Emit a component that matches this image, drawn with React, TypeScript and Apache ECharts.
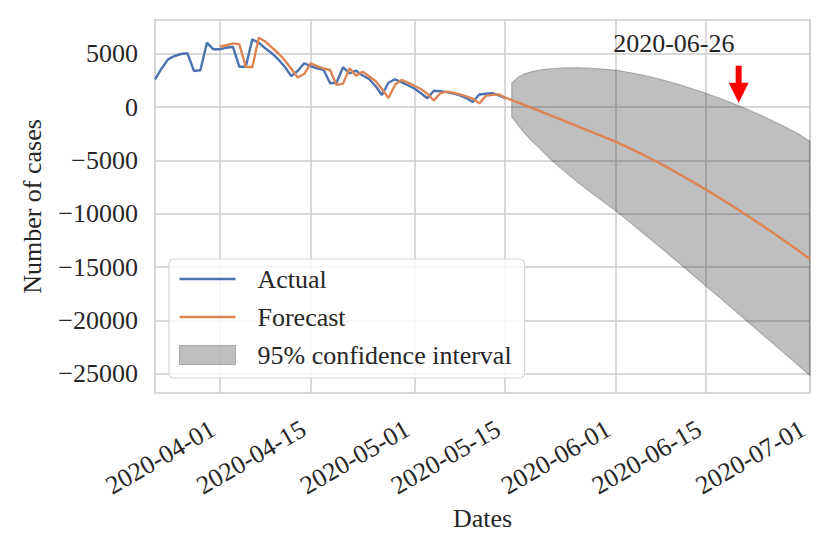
import React, { useEffect, useRef } from 'react';
import * as echarts from 'echarts';

const FONT = "'Liberation Serif', 'Times New Roman', serif";
const TEXT = '#262626';
const FS = 26;

const actualStart = '2020-03-22';
const actualValues = [
  2600, 3600, 4480, 4790, 4980, 5050, 3390, 3450, 6040, 5420,
  5420, 5570, 5660, 3790, 3790, 6350, 6040, 5510, 5050, 4480,
  3790, 2920, 3390, 4110, 3850, 3640, 3500, 2240, 2300, 3740,
  3170, 3420, 2970, 2640, 1980, 1140, 2290, 2610, 2350, 2050,
  1750, 1300, 830, 1530, 1500, 1400, 1280, 1100, 850, 480,
  1180, 1250, 1300, 1100, 850,
];

const fittedStart = '2020-04-01';
const fittedValues = [
  5660, 5800, 5980, 5890, 3790, 3740, 6500, 6150, 5600, 5050,
  4400, 3600, 2780, 3100, 4100, 3850, 3620, 3480, 2080, 2200,
  3640, 2950, 3320, 2900, 2450, 1700, 850, 2080, 2550, 2300,
  2000, 1700, 1250, 620, 1300, 1450, 1350, 1200, 1000, 800,
  350, 1050, 1150, 1200, 900,
];

const futureDates = [
  '2020-05-16', '2020-05-17', '2020-05-18', '2020-05-19', '2020-05-20',
  '2020-05-22', '2020-05-24', '2020-05-26', '2020-05-28', '2020-05-30',
  '2020-06-01', '2020-06-03', '2020-06-05', '2020-06-07', '2020-06-09',
  '2020-06-11', '2020-06-13', '2020-06-15', '2020-06-17', '2020-06-19',
  '2020-06-21', '2020-06-23', '2020-06-25', '2020-06-27', '2020-06-29',
  '2020-07-01',
];
const futureForecast = [
  660, 430, 190, -50, -290, -770, -1260, -1750, -2240, -2735,
  -3230, -3790, -4380, -5000, -5650, -6330, -7030, -7750, -8490, -9250,
  -10030, -10830, -11650, -12490, -13350, -14230,
];
const futureUpper = [
  2250, 2820, 3120, 3310, 3450, 3620, 3690, 3700, 3650, 3570,
  3470, 3270, 3030, 2750, 2430, 2080, 1700, 1290, 850, 380,
  -120, -650, -1210, -1800, -2420, -3200,
];
const futureLower = [
  -900, -1700, -2450, -3100, -3700, -4900, -5950, -6950, -7900, -8800,
  -9700, -10680, -11680, -12690, -13700, -14720, -15750, -16780, -17820, -18860,
  -19900, -20950, -22000, -23050, -24100, -25160,
];

const xTicks = ['2020-04-01', '2020-04-15', '2020-05-01', '2020-05-15', '2020-06-01', '2020-06-15', '2020-07-01'];
const yTicks = [-25000, -20000, -15000, -10000, -5000, 0, 5000];
const xMin = '2020-03-22';
const xMax = '2020-07-01';
const yMin = -26790;
const yMax = 8165;

const annotationText = '2020-06-26';
const annotationAt: [string, number] = ['2020-06-10', 6000];
const arrowAt: [string, number] = ['2020-06-20', 420];

const DAY = 86400000;
function toMs(s: string): number {
  const [y, m, d] = s.split('-').map(Number);
  return Date.UTC(y, m - 1, d);
}
function fmt(ms: number): string {
  return new Date(Math.round(ms / DAY) * DAY).toISOString().slice(0, 10);
}
function daySeq(start: string, n: number): number[] {
  const base = toMs(start);
  const out: number[] = [];
  for (let i = 0; i < n; i++) out.push(base + i * DAY);
  return out;
}

const LINE_ICON = 'path://M0,0 L56,0 L56,2.4 L0,2.4 Z';

export default function App() {
  const ref = useRef<HTMLDivElement>(null);
  useEffect(() => {
    document.body.style.margin = '0';
    if (!ref.current) return;
    const chart = echarts.init(ref.current, null, { renderer: 'svg' });
    const actualX = daySeq(actualStart, actualValues.length);
    const fittedX = daySeq(fittedStart, fittedValues.length);
    const futureX = futureDates.map(toMs);
    const forecastData = [
      ...fittedX.map((d, i) => [d, fittedValues[i]]),
      ...futureX.map((d, i) => [d, futureForecast[i]]),
    ];
    const ciData = futureX.map((d, i) => [d, futureLower[i], futureUpper[i]]);
    const xTickMs = xTicks.map(toMs);
    const gridLine = { show: true, lineStyle: { color: '#cccccc', width: 1.5 } };
    const labelStyle = { fontFamily: FONT, fontSize: FS, color: TEXT };

    chart.setOption({
      animation: false,
      backgroundColor: '#ffffff',
      grid: {
        left: 155, right: 20, top: 20, bottom: 161,
        show: true, borderColor: '#cccccc', borderWidth: 1.6, backgroundColor: '#ffffff',
        containLabel: false, outerBoundsMode: 'none',
      },
      legend: {
        left: 169, top: 259, orient: 'vertical',
        padding: [7, 13, 10, 10],
        itemWidth: 56, itemHeight: 19, itemGap: 12,
        symbolKeepAspect: true,
        backgroundColor: 'rgba(255,255,255,0.8)',
        borderColor: '#d6d6d6', borderWidth: 1.2, borderRadius: 5,
        selectedMode: false,
        textStyle: { ...labelStyle, lineHeight: 26, padding: [0, 0, 0, 17] },
        data: [
          { name: 'Actual', icon: LINE_ICON, itemStyle: { color: '#4c72b0' } },
          { name: 'Forecast', icon: LINE_ICON, itemStyle: { color: '#dd8452' } },
          {
            name: '95% confidence interval', icon: 'rect',
            itemStyle: { color: 'rgba(0,0,0,0.25)', borderColor: 'rgba(0,0,0,0.25)', borderWidth: 1 },
          },
        ],
      },
      xAxis: {
        type: 'value', min: toMs(xMin), max: toMs(xMax),
        axisLine: { show: false },
        axisTick: { show: false, customValues: xTickMs },
        axisLabel: {
          ...labelStyle, customValues: xTickMs, rotate: 30, margin: 30, hideOverlap: false,
          padding: [0, 8, 0, 0],
          formatter: (v: number) => fmt(v),
        },
        splitLine: gridLine,
        name: 'Dates', nameLocation: 'middle', nameGap: 104,
        nameTextStyle: labelStyle,
      },
      yAxis: {
        type: 'value', min: yMin, max: yMax,
        axisLine: { show: false },
        axisTick: { show: false, customValues: yTicks },
        axisLabel: {
          ...labelStyle, customValues: yTicks, margin: 17,
          formatter: (v: number) => (v < 0 ? '\u2212' + Math.abs(v) : String(v)),
        },
        splitLine: gridLine,
        name: 'Number of cases', nameLocation: 'middle', nameGap: 110, nameRotate: 90,
        nameTextStyle: labelStyle,
      },
      series: [
        {
          name: '95% confidence interval', type: 'custom', z: 2,
          data: ciData, encode: { x: 0, y: [1, 2] },
          itemStyle: { color: 'rgba(0,0,0,0.25)' },
          renderItem: (params: any, api: any) => {
            if (params.dataIndex !== 0) return null;
            const n = ciData.length;
            const up: number[][] = [];
            const low: number[][] = [];
            for (let i = 0; i < n; i++) {
              const x = api.value(0, i);
              up.push(api.coord([x, api.value(2, i)]));
              low.push(api.coord([x, api.value(1, i)]));
            }
            const points = [...up, ...low.reverse()];
            return {
              type: 'polygon',
              shape: { points },
              style: { fill: 'rgba(0,0,0,0.25)', stroke: 'rgba(0,0,0,0.22)', lineWidth: 1.2 },
            };
          },
        },
        {
          name: 'Actual', type: 'line', z: 3, symbol: 'none',
          data: actualX.map((d, i) => [d, actualValues[i]]),
          lineStyle: { color: '#4c72b0', width: 2.4 },
          itemStyle: { color: '#4c72b0' },
        },
        {
          name: 'Forecast', type: 'line', z: 4, symbol: 'none',
          data: forecastData,
          lineStyle: { color: '#dd8452', width: 2.4 },
          itemStyle: { color: '#dd8452' },
          markPoint: {
            silent: true,
            data: [
              {
                coord: [toMs(arrowAt[0]), arrowAt[1]],
                symbol: 'path://M7,0 L13,0 L13,17 L20,17 L10,37 L0,17 L7,17 Z',
                symbolSize: [20, 37], symbolOffset: [0, '-50%'],
                itemStyle: { color: '#ff0000' },
                label: { show: false },
              },
              {
                coord: [toMs(annotationAt[0]), annotationAt[1]],
                symbol: 'rect', symbolSize: 1,
                itemStyle: { color: 'rgba(0,0,0,0)' },
                label: { show: true, position: 'inside', formatter: annotationText, ...labelStyle },
              },
            ],
          },
        },
      ],
    });
    return () => chart.dispose();
  }, []);
  return <div ref={ref} style={{ width: 830, height: 554 }} />;
}
